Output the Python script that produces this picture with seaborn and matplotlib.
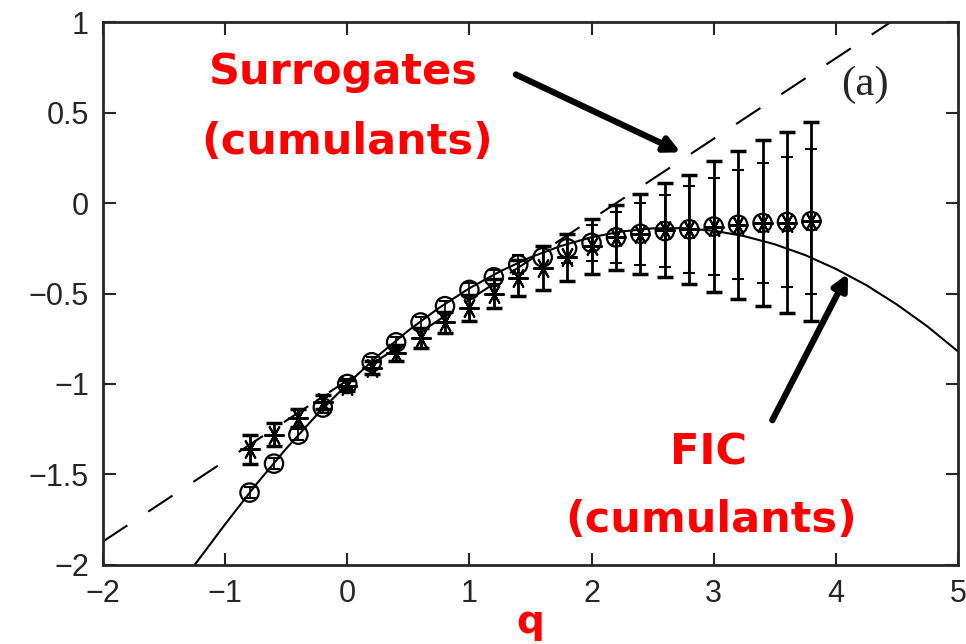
import matplotlib
matplotlib.use("Agg")
import matplotlib.pyplot as plt
import seaborn as sns
import pandas as pd

# q values of the measured points
q_pts = [-0.8, -0.6, -0.4, -0.2, 0.0, 0.2, 0.4, 0.6, 0.8, 1.0, 1.2, 1.4,
         1.6, 1.8, 2.0, 2.2, 2.4, 2.6, 2.8, 3.0, 3.2, 3.4, 3.6, 3.8]

# circles (FIC estimates) and their error bars
circ_y = [-1.60, -1.44, -1.28, -1.13, -1.00, -0.88, -0.77, -0.66, -0.57, -0.48,
          -0.41, -0.34, -0.30, -0.25, -0.22, -0.19, -0.17, -0.155, -0.145, -0.13,
          -0.12, -0.11, -0.105, -0.10]
circ_err = [0.03, 0.03, 0.03, 0.03, 0.03, 0.03, 0.03, 0.03, 0.03, 0.04,
            0.04, 0.05, 0.06, 0.08, 0.10, 0.14, 0.17, 0.20, 0.24, 0.27,
            0.30, 0.33, 0.36, 0.40]

# stars (surrogates) and their error bars
star_y = [-1.36, -1.28, -1.19, -1.10, -1.01, -0.91, -0.83, -0.745, -0.66, -0.58,
          -0.50, -0.415, -0.36, -0.30, -0.24, -0.19, -0.17, -0.15, -0.145, -0.13,
          -0.12, -0.11, -0.11, -0.10]
star_err = [0.08, 0.065, 0.05, 0.04, 0.03, 0.035, 0.045, 0.055, 0.06, 0.07,
            0.08, 0.10, 0.12, 0.13, 0.15, 0.18, 0.22, 0.26, 0.30, 0.36,
            0.41, 0.46, 0.50, 0.55]

# solid curve (FIC cumulants)
fic_q = [-1.25, -1.0, -0.75, -0.5, -0.25, 0.0, 0.25, 0.5, 0.75, 1.0, 1.25, 1.5,
         1.75, 2.0, 2.25, 2.5, 2.75, 3.0, 3.25, 3.5, 3.75, 4.0, 4.25, 4.5, 4.75, 5.0]
fic_y = [-2.0, -1.775, -1.558, -1.357, -1.171, -1.0, -0.845, -0.705, -0.58, -0.471,
         -0.378, -0.30, -0.237, -0.189, -0.157, -0.14, -0.139, -0.153, -0.183,
         -0.228, -0.288, -0.364, -0.454, -0.561, -0.682, -0.82]

# dashed line (surrogate cumulants)
sur_q = [-2.0, 4.45]
sur_y = [-1.87, 1.0]

sns.set_style("ticks")
plt.rcParams['font.family'] = ['Liberation Sans', 'DejaVu Sans']

fig = plt.figure(figsize=(9.66, 6.44), dpi=100)
ax = fig.add_axes([0.1066, 0.1227, 0.8851, 0.8431])

fic_df = pd.DataFrame({'q': fic_q, 'y': fic_y})
sur_df = pd.DataFrame({'q': sur_q, 'y': sur_y})
sns.lineplot(data=fic_df, x='q', y='y', ax=ax, color='black', lw=1.5)
sns.lineplot(data=sur_df, x='q', y='y', ax=ax, color='black', lw=1.5)
ax.lines[-1].set_dashes([14, 12])

ax.errorbar(q_pts, star_y, yerr=star_err, fmt='none', ecolor='black',
            elinewidth=2.0, capsize=5.5, capthick=2.5)
ax.errorbar(q_pts, circ_y, yerr=circ_err, fmt='none', ecolor='black',
            elinewidth=1.2, capsize=4.5, capthick=1.5)

pts = pd.DataFrame({'q': q_pts, 'c': circ_y, 's': star_y})
sns.scatterplot(data=pts, x='q', y='c', ax=ax, marker='o', s=175,
                facecolor='none', edgecolor='black', linewidth=1.6)
sns.scatterplot(data=pts, x='q', y='s', ax=ax, marker=(6, 2, 90), s=190,
                color='black', linewidth=1.5)

ax.set_xlim(-2, 5)
ax.set_ylim(-2, 1)
ax.set_xticks(range(-2, 6))
ax.set_yticks([-2, -1.5, -1, -0.5, 0, 0.5, 1])
ax.set_yticklabels(['\u22122', '\u22121.5', '\u22121', '\u22120.5', '0', '0.5', '1'])
ax.set_xticklabels(['\u22122', '\u22121', '0', '1', '2', '3', '4', '5'])
ax.tick_params(direction='in', length=9, width=1.5, labelsize=22,
               top=True, right=True, pad=10)
for sp in ax.spines.values():
    sp.set_linewidth(2)
    sp.set_visible(True)

ax.set_xlabel('q', color='red', fontsize=28, fontweight='bold',
              family='DejaVu Sans', labelpad=-4)
ax.set_ylabel('')

red = dict(color='red', fontsize=31, fontweight='bold', family='DejaVu Sans',
           ha='center', va='center')
ax.text(-0.03, 0.724, 'Surrogates', **red)
ax.text(0.0, 0.337, '(cumulants)', **red)
ax.text(2.96, -1.376, 'FIC', **red)
ax.text(2.98, -1.751, '(cumulants)', **red)
ax.text(4.24, 0.652, '(a)', fontsize=31, family='Liberation Serif',
        ha='center', va='center')

arrow = dict(arrowstyle='-|>,head_length=0.9,head_width=0.45', lw=4.5,
             color='black', shrinkA=0, shrinkB=0)
ax.annotate('', xy=(2.73, 0.28), xytext=(1.38, 0.71), arrowprops=arrow)
ax.annotate('', xy=(4.10, -0.39), xytext=(3.48, -1.20), arrowprops=arrow)

fig.savefig('out.png', dpi=100)
